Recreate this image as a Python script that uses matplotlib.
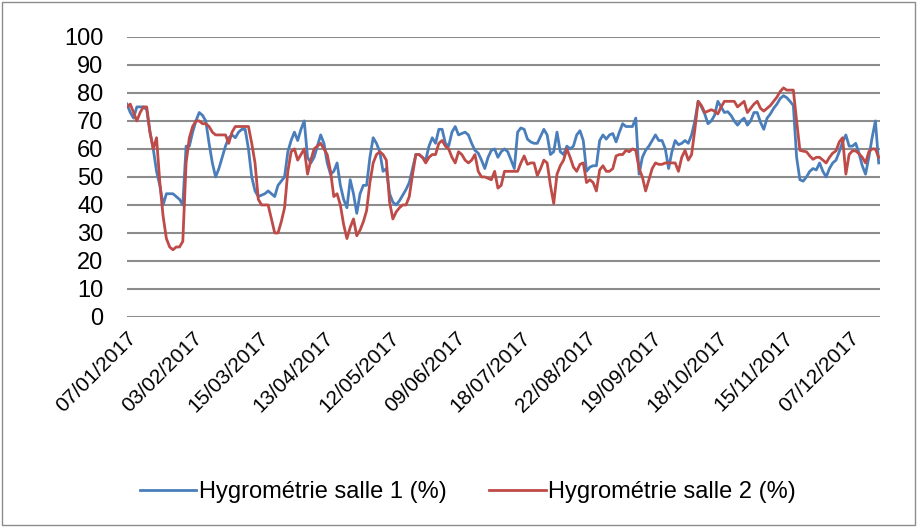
import matplotlib
matplotlib.use("Agg")
import matplotlib.pyplot as plt
from matplotlib.patches import Rectangle

# category labels shown every 20 measurements
tick_labels = ["07/01/2017", "03/02/2017", "15/03/2017", "13/04/2017", "12/05/2017",
               "09/06/2017", "18/07/2017", "22/08/2017", "19/09/2017", "18/10/2017",
               "15/11/2017", "07/12/2017"]
tick_step = 20

salle1 = [
    76, 73, 71, 75, 75, 75, 74, 66, 60, 52,
    47, 40, 44, 44, 44, 43, 42, 40, 61, 61,
    66, 70, 73, 72, 70, 62, 55, 50, 53, 57,
    61, 64, 65, 64, 66, 67, 67, 60, 50, 45,
    43, 43.5, 44, 45, 44, 43, 47, 48.5, 50, 59,
    63, 66, 63, 67, 70, 57, 55, 57, 61, 65,
    62, 55, 51, 52, 55, 47, 42, 39, 49, 44,
    37, 44, 47, 47, 57, 64, 62, 59, 52, 53,
    44, 41, 40, 41.5, 43.5, 45.5, 48, 53, 58, 58,
    57, 56, 61, 64, 62, 67, 67, 62, 61, 66,
    68, 65, 65.5, 66, 65, 62, 59.5, 58.5, 56, 53,
    57, 59.5, 60, 57, 59, 60, 59, 56, 53, 66,
    67.5, 67, 63.5, 62.5, 62, 62, 64.5, 67, 65, 58,
    59, 66, 59, 58, 61, 60, 61, 65, 66.5, 63,
    52, 53.5, 54, 54, 63, 65, 63.5, 65, 65.5, 62.5,
    66, 69, 68, 68, 68, 71, 51, 57, 59.5, 61,
    63, 65, 63, 63, 60, 53, 59, 63, 61.5, 62,
    63, 62, 65, 70, 77, 75, 72.5, 69, 70, 72,
    77, 75, 73, 73.3, 72, 70, 68.5, 70, 71, 68.5,
    70, 73, 73, 69.5, 67, 71, 72.5, 74.5, 76, 78,
    79, 78.3, 77, 75.5, 57, 49, 48.5, 50, 52, 53,
    52.5, 55, 52, 50, 53, 55, 56, 59, 62.5, 65,
    61, 61, 62, 58.5, 54, 51, 57, 64, 70, 55,
]

salle2 = [
    75, 76, 73, 70, 73, 75, 75, 66, 60, 64,
    48, 36, 28, 25, 24, 25, 25, 27, 55, 64,
    68, 70, 70, 69, 69, 68, 66, 65, 65, 65,
    65, 62, 66, 68, 68, 68, 68, 68, 62, 55,
    42, 40, 40, 40, 35, 30, 30, 34, 39, 52,
    59, 60, 56, 58, 60, 51, 56, 60, 61, 62,
    60, 58, 52, 43, 44, 40, 33, 28, 32, 35,
    29, 31, 34, 38, 48, 55, 58, 59, 58, 56,
    41, 35, 37.5, 39, 40, 40, 43, 51, 58, 58,
    57, 55, 57, 58, 58, 62, 63, 61, 60, 57,
    55, 59, 58, 56, 55, 56, 58, 52, 50, 50,
    49.5, 49, 52, 46, 47, 52, 52, 52, 52, 52,
    55, 57.5, 54.5, 55, 55, 50.5, 53, 56, 55, 47,
    40.5, 51, 54, 56, 60, 57, 53.5, 52, 54.5, 55,
    48, 49, 48, 45, 52.5, 54, 52, 52, 53, 57.5,
    58, 58, 59.5, 59, 60, 59.5, 53, 50, 45, 49,
    53, 55, 54.5, 54.5, 55, 55, 55, 55, 52, 57,
    59.5, 56, 58, 67, 77, 75.5, 73, 73.5, 74, 73.5,
    72.5, 75, 77, 77, 77, 77, 75, 76, 77, 73,
    74.5, 76, 77, 74.5, 73.5, 74.5, 75.5, 77, 78.5, 80.5,
    81.8, 81, 81, 81, 70, 59.5, 59.2, 59, 57.5, 56.3,
    57, 57, 56, 55, 57, 58.5, 59.3, 62.5, 64, 51,
    58, 59.3, 59.3, 58.3, 57, 55, 59, 60, 60, 57,
]

plt.rcParams["font.family"] = ["Liberation Sans", "DejaVu Sans"]

fig = plt.figure(figsize=(9.17, 5.27), dpi=100)
ax = fig.add_axes([0.1385, 0.3985, 0.8215, 0.5315])

x = range(len(salle1))
ax.plot(x, salle1, color="#4A7EBB", lw=2.0, label="Hygrométrie salle 1 (%)")
ax.plot(x, salle2, color="#BE4B48", lw=2.0, label="Hygrométrie salle 2 (%)")

ax.set_ylim(0, 100)
ax.set_xlim(0, len(salle1) - 0.5)
ax.set_yticks(range(0, 101, 10))
ax.set_xticks(range(0, len(tick_labels) * tick_step, tick_step))
ax.set_xticklabels(tick_labels, rotation=45, ha="right", va="top", rotation_mode="anchor")
ax.tick_params(axis="y", length=0, pad=17, labelsize=17)
ax.tick_params(axis="x", length=0, pad=8, labelsize=15)
ax.grid(axis="y", color="#8c8c8c", lw=1.5)
ax.set_axisbelow(True)
for s in ax.spines.values():
    s.set_visible(False)

fig.legend(loc="center", bbox_to_anchor=(0.51, 0.066), ncol=2, frameon=False,
           fontsize=17, handlelength=2.4, columnspacing=1.8, handletextpad=0.1)

fig.patches.append(Rectangle((0.002, 0.004), 0.996, 0.992, transform=fig.transFigure,
                             fill=False, edgecolor="#8c8c8c", lw=1))

fig.savefig("out.png", dpi=100)
